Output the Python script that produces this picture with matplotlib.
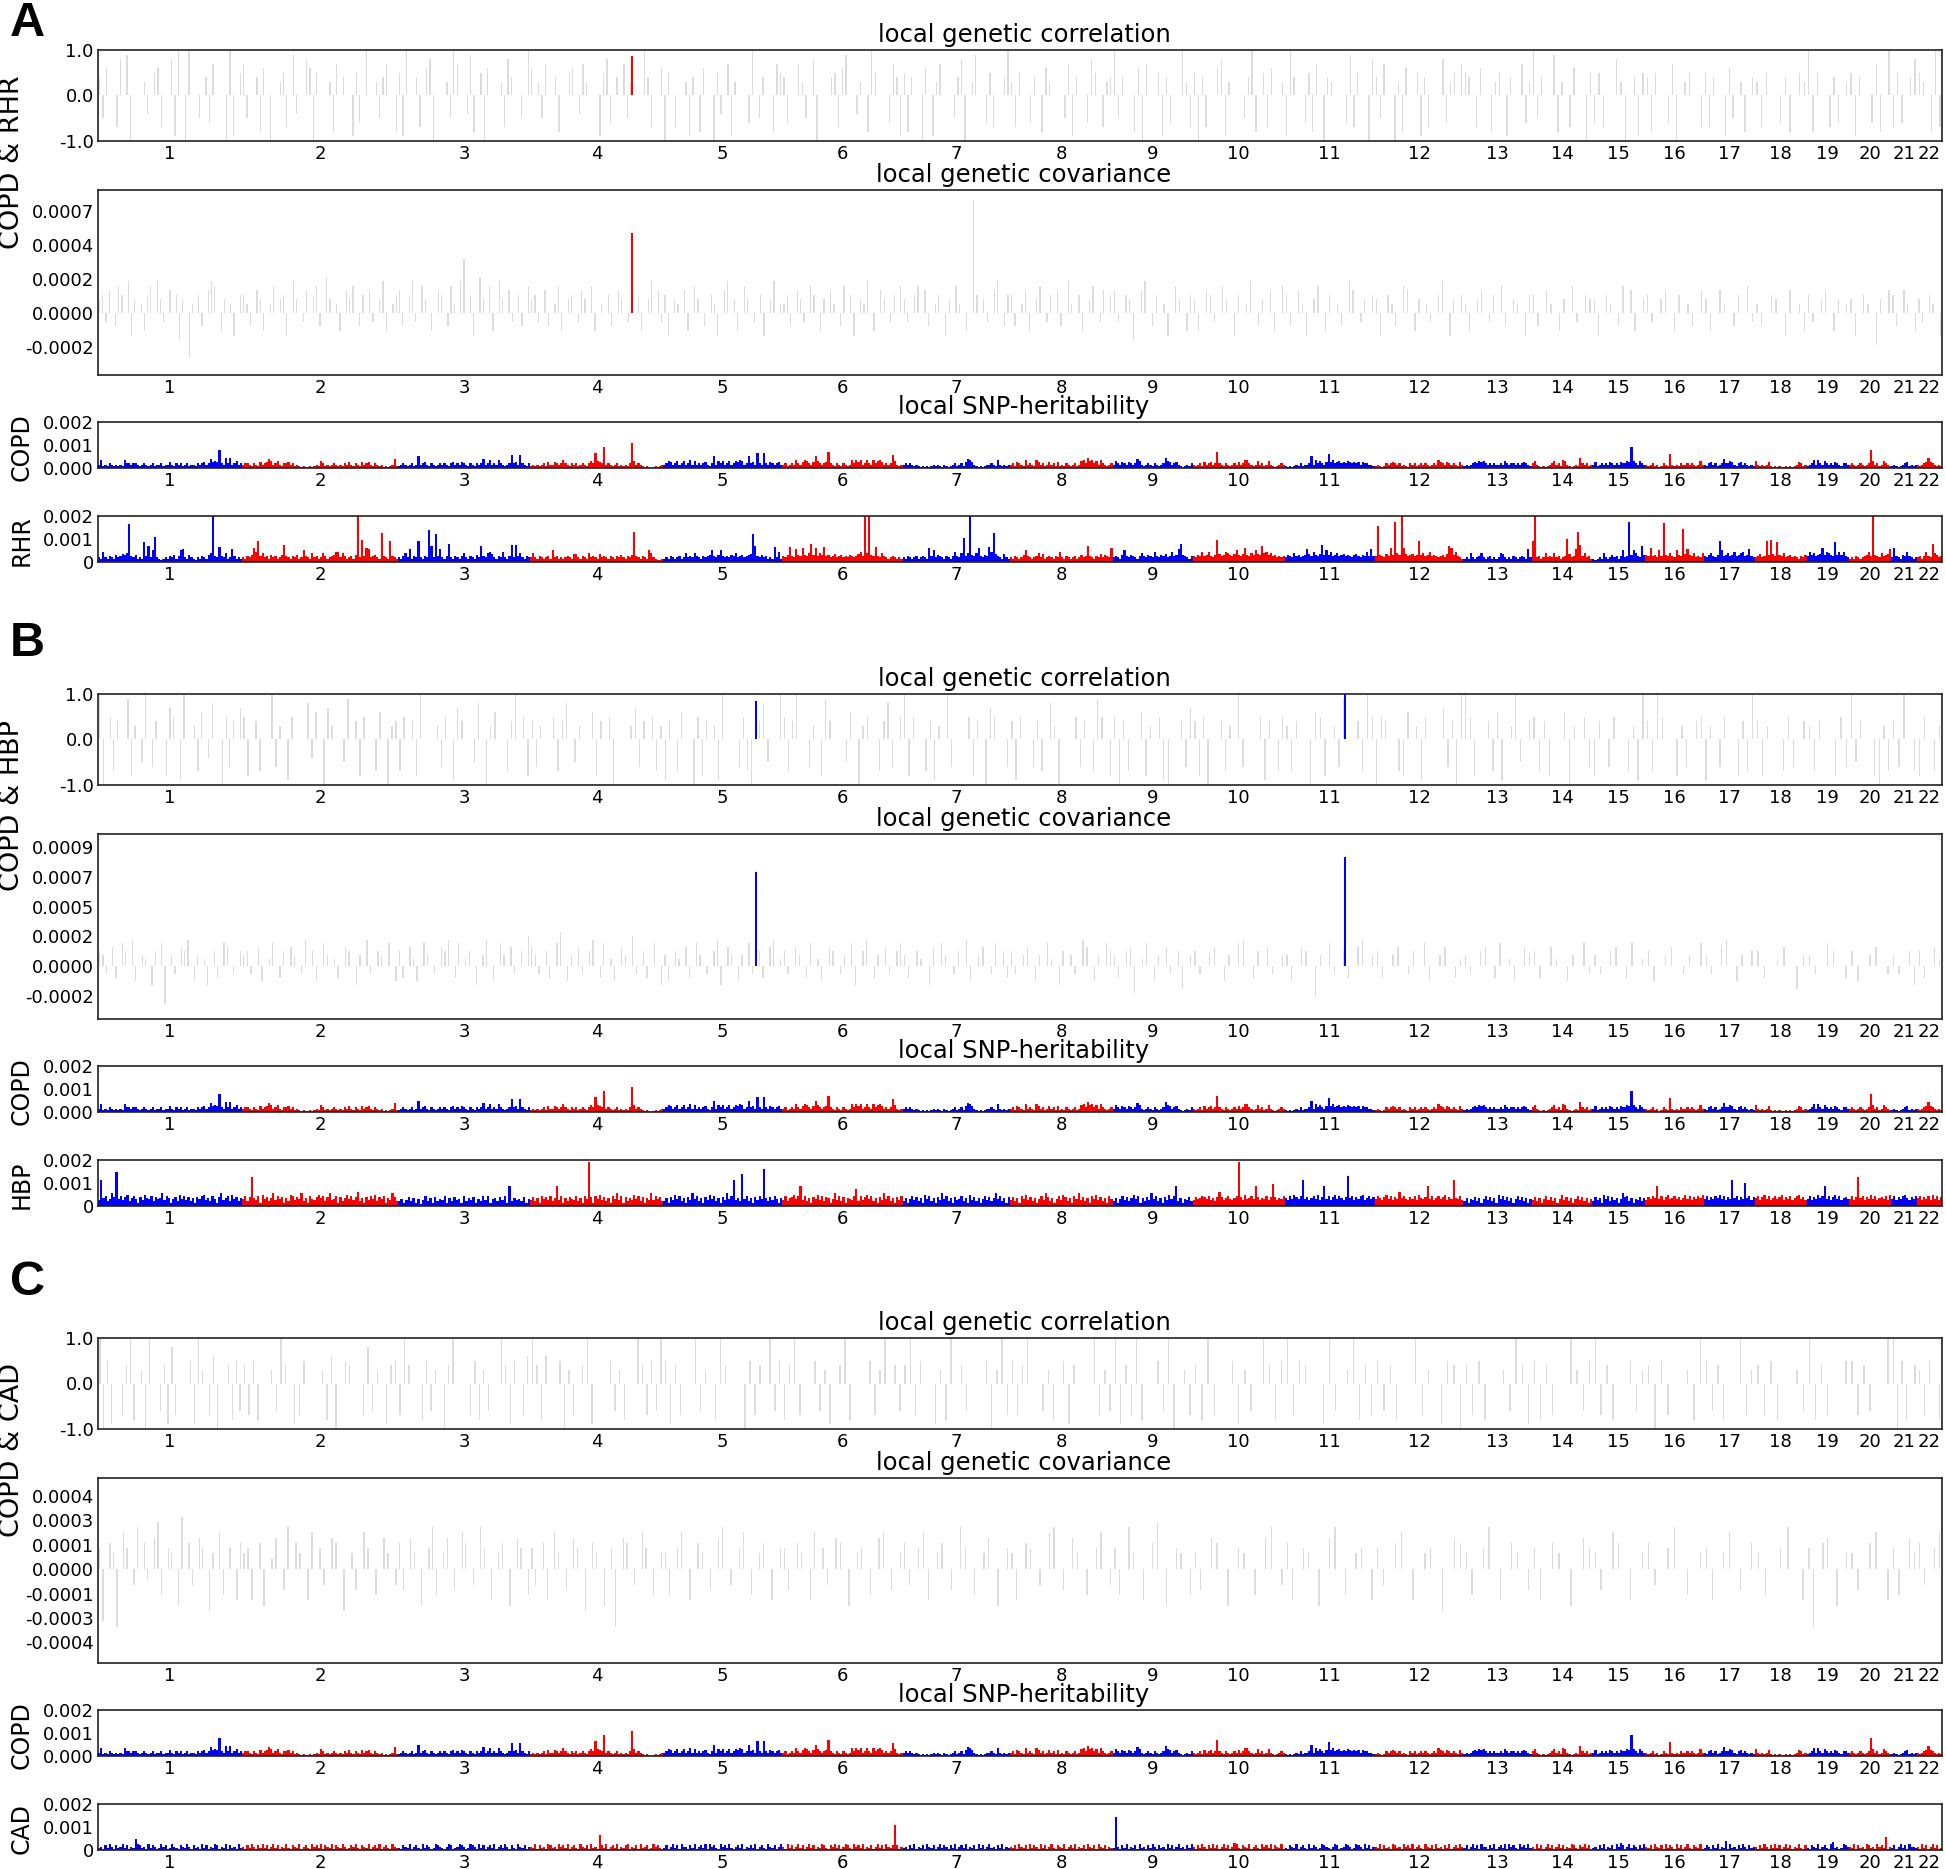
import numpy as np
import matplotlib
matplotlib.use("Agg")
import matplotlib.pyplot as plt

# ---------------------------------------------------------------- data
# LD blocks per chromosome (estimated from the chromosome widths)
CHR_BLOCKS = [133, 144, 122, 123, 110, 111, 99, 95, 74, 85, 83, 82,
              63, 56, 49, 54, 47, 48, 39, 39, 24, 23]
CHR_NAMES = [str(i) for i in range(1, 23)]

# local SNP-heritability, one char per ~2 blocks, code index * 0.00005
H2_CODE = "0123456789ABCDEFGHIJKLMNOPQRSTUVWXYZabcdefghij"
H2_STEP = 0.00005

copd_h2 = [
    "3723243232" "3274434432" "3432342334" "2335324342" "3423324345" "348565G439" "4934634",
    "3443243253" "4586346324" "4534232121" "1212326423" "2343232435" "3243253453" "2432312123" "82",
    "234323423A" "3453243234" "3432453435" "4324324348" "3473437432" "34B453B432" "4",
    "2323234253" "3543474324" "3423432464" "D654I34323" "4232324M63" "4321210121" "23",
    "3465346346" "3473634345" "324A364634" "634657634A" "453D43D435" "43453",
    "3423437435" "76435A6434" "5E43243243" "2374757347" "4374675343" "4B6323",
    "3434323212" "1212323213" "2123423425" "8753212123" "3432732323",
    "3425432734" "3275342353" "4252324323" "4236749674" "63743234",
    "3643543543" "4863234324" "3234965345" "3212324",
    "3234253453" "4E43243234" "3534774323" "6342363212" "343",
    "2121232423" "34A3746435" "C574564546" "5454535443" "32",
    "2321243454" "3423214342" "3434323437" "5435434325" "3",
    "2323454656" "4343433436" "4344343454" "32",
    "4632121234" "6342763212" "32943423",
    "3523434354" "34354465I6" "43643",
    "3234231243" "2C32324334" "3432363",
    "3245342348" "4465324534" "3232",
    "6323235212" "1211212123" "5423",
    "2347374364" "3435432443",
    "3432343234" "G634236432",
    "232123452323",
    "323459543232",
]

rhr_h2 = [
    "4394354364" "5768X54634" "3H5E4AM432" "34354635AB" "4364324354" "368f54D548" "34B5343",
    "43546C9I58" "453645346F" "54354634A5" "4384534853" "4569948534" "536e4J5CB4" "5643P543I5" "43",
    "43584B354I" "4354SE4O5B" "435G435435" "84354364E5" "4897435494" "35F4F58435" "4",
    "4843543453" "A453434543" "7743543845" "4374543543" "54643546Q5" "43543A8432" "23",
    "3435434534" "8454854354" "56A546A545" "4658456456" "7OE5464534" "3D493",
    "546D54B65C" "658G6C586D" "5645745645" "46545795f8" "f65D548543" "454343",
    "4354345345" "43C5A46543" "54359548L5" "8f658C5465" "D9P7543743",
    "4354346A54" "3458473454" "3549435434" "534645E543" "5474654C",
    "45436A5465" "4358546549" "5465745956" "BG65435",
    "5465956954" "6J75698657" "A657C6586A" "76E8968564" "545",
    "4654856456" "B759657F6A" "6956856756" "5467546595" "B5",
    "5V65475C6Z" "86fC756756" "I685695654" "5647EC6954" "3",
    "3438434584" "3453434874" "3435434543" "B4",
    "If45348454" "845345K745" "BQF58453",
    "3234384346" "4535A45Z6A" "854E6",
    "65C564A5Y6" "5854A65T7B" "6584548",
    "5468546IA5" "6856956895" "6B54",
    "45745I6J75" "H658456454" "3546",
    "5968567C69" "865H696954",
    "3435434569" "5f6548567B",
    "4C5436595434",
    "4535954G8645",
]

hbp_h2 = [
    "5N7946B8U6958A4796385A7694867B5973684A6958473869A5749638B5794A6847",
    "6948P7593A6847B5968374A9586B4739658A7948B5693847A6958C4738596A4869375B84",
    "4635847362594738465937485639475836495936748593H47564836",
    "584739685947H59374865947396c8396A5847396B5938475A6948375B59684",
    "47385A6947385B6947385A6947385B69N574S694738596W74859637",
    "59478A69H5947386A5948736B594837659F4958A6947385B69473859",
    "4736958473A6947385B694738569473A58473695847B694738",
    "5847396A58473695B8473695A847396B5847396A5847396",
    "473695847A6937485B6947385A69H4736584",
    "586798695748C85796579c85A6796H8576958J85769",
    "7596A869N685796A58H6958A69758Q795869A57968",
    "69758A69586C79658695A768H6957968A586N7695",
    "4736584736958473A695847369584736",
    "5847369584736A5847369584736",
    "48573A69485736B8947365847",
    "58697H6958A6796857A6958697A",
    "6958697A69586N79586K7958",
    "7958A6957968A5869579A685",
    "69586A79H6958A695786",
    "6958P79586A69578695A",
    "695869A75869",
    "7958695A6958",
]

cad_h2 = [
    "2314253142" "3524132A54" "2315243125" "3412532143" "2531423152" "4132541325" "1423152",
    "3142531425" "2413524132" "5214325134" "2153425143" "2514325312" "4352143251" "3425134215" "32",
    "2143251342" "1524312543" "2135412354" "3125431524" "1342513425" "3142153241" "3",
    "3251423154" "2315342513" "4215324152" "31D4251342" "5132451324" "1523412534" "21",
    "2413524153" "3142513425" "1534215342" "5213425132" "4251342153" "24135",
    "3152413524" "1352413254" "2143524135" "4215342513" "2413524153" "24M413",
    "2314251324" "1532413524" "3142513425" "1324152413" "5231425132",
    "3241532415" "2431524135" "2143251342" "5132415324" "15324132",
    "2T31425132" "4152314253" "1423152413" "5231425",
    "3142531425" "2413524136" "5214325134" "2153425143" "251",
    "2143251342" "1524312543" "2135412354" "3125431524" "13",
    "3251423154" "2315342513" "4215324152" "3142513425" "3",
    "2413524153" "3142513425" "1534215342" "52",
    "3152413524" "1352413254" "21435241",
    "2314251324" "1536413524" "31425",
    "3241532415" "2431524135" "2143251",
    "2431425132" "8152314253" "1423",
    "3142531425" "2413524132" "5214",
    "2143251342" "1572312543",
    "3251423154" "2315342B13",
    "241352415332",
    "315241352412",
]

# local genetic correlation, one char per ~3 blocks:
# '.' = 0, 'a'..'j' = +0.1..+1.0, 'A'..'J' = -0.1..-1.0
RHO_STEP = 0.1
rho_rhr = [
    "dEf..Gh.iJ...cD.efG..hIj.Jj..E.dFg...JjI.e",
    "gE..dHf.J..ceG.iD..hfJe...cHg.d..IeF.j..cEdg..H",
    "eIj..dG.fhJ...cEjg..DiH.eJf...cGhd..E.j",
    "f.cEg..dH..ef.Dgc...IehF.d.gEc...jdG..f",
    "Je.G..cId.Hf..JeD.gIc...Fj.Ed..Hge",
    "dF..gcE.hJ...deGfi..Dc.Hje...FgdI",
    "eHd..Jf.Icg...EdhJ.ci..FeG..dj",
    "cGe..Fd.Hfc...EgId..Fhe.Gcd",
    "jEd..HfJg..eIdF..jcG",
    "eJdG..fhIc...EdjH.eGf..c",
    "Ijd..FeHg.Jdc...FiGe..Jh",
    "dEg..JcHf..eIdG...hFce.g",
    "ed.Gf..Hce.Id..gFc",
    "jEd..iHc.Gf..Je",
    "FeG..hcJ.dIe",
    "dHe..FgJ.ce..G",
    "eGd..IfE.cH.d",
    "cGe..FdH.ec",
    "jHe..GdF.c",
    "eId..FgH.j",
    "GeF.dh",
    "ec.HjG",
]
rho_hbp = [
    "jJ.eGd..iHc.Ej.Fd..Hge.Ij..cGf.Dh..JeFd.g",
    "eH.dG..jFc.Ie...hDf.Jgc..Ei.dHe..Gf.Jcd",
    "Ge.dHj...cFe.Igd..Eh.Jcf..Gdj.eH",
    "dFc..eGdh.Ec..fHd.eJ...cgFd.eGc",
    "Id.Gf..JeHd.cIj...FeGJ.dhE..j",
    "eGdj..Fc.Hid...Ef.Jce..GdhF.e",
    "jHe..GdIc.jF...eHd.Jge..F",
    "dIe..FdG.hcJ...eFd.Gie.H",
    "eJdG..fHc.eIJ..dFg",
    "dHeJ..dGc.jF...eId.Ge",
    "cGd..JfeH.cFi..dGje",
    "Jed..GHf.cIe...gFdJj",
    "jeH..dGfI.cjE.d",
    "eGdH..fJc.eF",
    "Hd.Fe..GcIj",
    "dGje..HcF.de",
    "Ic.Fe..HdGj",
    "dHc..GeF.d",
    "cGd..HeF",
    "jEd..HJcG",
    "dFj.G",
    "He.Gc",
]
rho_cad = [
    "jJeI..GdjH.cJj..FdIhG...eIjc.GfJ..dHeF",
    "dGeH..cFjd.IGe...cHfJ.ed..GhFc.Ide",
    "Gjd..HeFc.Jdj...GeHcF..jdIe.Gf",
    "jdHf..eJcG.djI...eFcH..jdGeFj",
    "eIdG..jFc.Hjd...JeGd.jFe",
    "HdjG..eFcI.djH...eGcj.dF",
    "djGe..IcHj.dF...eJcjG",
    "eGdj..FcH.eId...jGcF",
    "jIdGjH..eFjJ.cG",
    "dHjG..eIcF.jdHe",
    "jGed..IjF.cjHdG",
    "eFdH..jGc.IedJ",
    "dGeH..cFjdI",
    "eHdG..jcFe",
    "jGdH..eFc",
    "dJeG..cHj",
    "eFdH..jGc",
    "dGeH..cF",
    "jHdG..e",
    "eGdF..j",
    "jJeH.d",
    "cGe.H",
]

# local genetic covariance, one char per ~3 blocks:
# '.' = 0, 'a'..'y' = +k * 0.00003, 'A'..'Y' = -k * 0.00003
COV_STEP = 0.00003
cov_rhr = [
    "cdBe.Cfd.gEc.bDdf.gcB.e.dFc.Jb.dC.egf.Dc.bE.d",
    "dbC.ecD.bf.cdE.gc.Be.dfC.hc.bD.ecf.Cd.eB.cgD.bd",
    "eC.dgB.fc.D.ed.Cfb.gl.dE.hc.fD.gc.eB.dC.f",
    "cdB.eC.bfD.cd.Bec.fD.b.dC.ec.Bf.dD.cg.eB",
    "dE.cb.eD.fc.C.dbE.eg.cD.fc.B.dE.cg.b",
    "bdC.ecB.fd.Dc.eb.Cf.dE.cbg.D.ec.Bd.f",
    "cB.df.eC.bd.Ec.fb.D.yd.cB.eg.Cd",
    "dC.beD.cf.Bd.eC.gb.dD.cf.Be.d",
    "eB.dcF.eg.Cd.bE.fc.Dd",
    "cD.edB.fc.Ed.bg.Cc.eD.f",
    "dC.ebE.cf.Dd.bC.ge.Bc.d",
    "cE.dbC.fe.Dc.bB.dg.Ec.d",
    "bD.ce.Bd.fC.cb.Ed",
    "dC.eb.Dc.fB.dc",
    "cE.db.Cf.eD.c",
    "dB.ce.Dd.bC.e",
    "cD.eb.Cd.fB",
    "bC.dc.Ee.bD",
    "dB.ce.Dc.b",
    "cE.db.Gc.e",
    "dC.eb.D",
    "cB.db.E",
]
cov_hbp = [
    "dcB.eC.fd.gD.cb.Ed.fJ.cB.edg.Dc.bE.dC.fe.B.d",
    "cdB.eD.bf.Cd.ec.Bg.dD.fc.bC.ed.Ec.gB.dc.f.D",
    "dC.ebD.fc.B.edg.Cf.bd.E.cg.D.fc.eB.d.h",
    "ecB.dC.fi.Dc.eB.dg.Cf.bD.ec.hB.dC.f.E",
    "cD.db.eC.fc.B.dgE.ec.Dc.fB.dC.eg.b",
    "dB.ec.Cf.bD.ed.Bc.fE.dg.Cc.eB.df",
    "cC.db.Ee.fc.Bd.gD.ce.Bf.dC",
    "dB.ce.Dc.fb.Ed.cB.ge.Dc.fd",
    "cC.deG.bf.Dc.eB.dF.c",
    "dB.ce.Dc.fg.Cd.eB.c",
    "cD.ed.Hc.fB.dC.eg.c",
    "dC.ce.Bd.fD.ce.Cb",
    "cB.de.Cf.bD.ec",
    "dC.eb.Dc.fB",
    "cB.de.Cf.b",
    "dD.ce.Bc.f",
    "cB.eg.Dc.d",
    "dC.be.Fc",
    "cB.fd.C",
    "dD.ce.B",
    "cB.dE",
    "dC.eb",
]
cov_cad = [
    "dJ.ecK.gd.Ch.eB.fiE.dc.Gj.eC.fd.Hc.gE.d.Fe",
    "cdF.eG.bf.Dh.ec.Fg.dC.fe.H.cD.gd.E.fc.C",
    "eD.fc.G.dhE.cf.D.ge.C.hd.F.ce.G.fd.E",
    "dC.eF.gc.D.fd.H.ec.G.dK.fe.C.gd.E.c",
    "cE.dg.F.ec.D.fh.C.dg.E.ce.F.d",
    "dD.ec.Fg.dC.fe.G.cd.E.fg.D.c",
    "eC.dgF.ce.D.hd.E.cf.G.d",
    "cF.ed.C.gh.D.fc.E.dg.C",
    "dE.hc.F.ei.G.dc.E",
    "cD.fe.G.dc.E.fh.C",
    "eF.dc.G.fh.E.cd.F",
    "dC.eg.F.cd.H.fe",
    "cE.dh.F.ec.D",
    "dF.ec.G.fd",
    "cD.ge.F.c",
    "eC.dh.E.c",
    "dF.cg.D.e",
    "cE.dh.F",
    "dK.ef.G.c",
    "cD.eg.F",
    "dE.fc",
    "eC.dg",
]

# significant loci: (chromosome, block within chromosome, rho, covariance)
sig_rhr = [(4, 94, 0.87, 0.00053)]
sig_hbp = [(5, 86, 0.84, 0.00074), (11, 56, 1.0, 0.00086)]
sig_cad = []

# covariance axis: tick step, labels, first tick (in steps), limits (in steps)
cov_axis = {
    "A": (0.000225, ["-0.0002", "0.0000", "0.0002", "0.0004", "0.0007"], -1, (-1.83, 3.62)),
    "B": (0.000235, ["-0.0002", "0.0000", "0.0002", "0.0005", "0.0007", "0.0009"], -1, (-1.77, 4.43)),
    "C": (0.00014, ["-0.0004", "-0.0003", "-0.0001", "0.0000", "0.0001", "0.0003", "0.0004"], -3, (-3.84, 3.72)),
}

panels = [
    ("A", "RHR", rho_rhr, cov_rhr, rhr_h2, sig_rhr, "red"),
    ("B", "HBP", rho_hbp, cov_hbp, hbp_h2, sig_hbp, "blue"),
    ("C", "CAD", rho_cad, cov_cad, cad_h2, sig_cad, "blue"),
]

# ---------------------------------------------------------------- layout
W, H = 1946, 1869
LEFT, RIGHT = 98, 1942
PANEL_TOP = [50, 694, 1338]
LETTER_Y = [24, 644, 1282]
GRAY = "#dcdcdc"
H2_COLORS = ["blue", "red"]

CHR_START = np.concatenate([[0], np.cumsum(CHR_BLOCKS)[:-1]])
N_TOTAL = sum(CHR_BLOCKS)
CHR_MID = CHR_START + np.array(CHR_BLOCKS) / 2.0

fig = plt.figure(figsize=(W / 100, H / 100), dpi=100)


def px_axes(top, bottom):
    ax = fig.add_axes([LEFT / W, 1 - bottom / H, (RIGHT - LEFT) / W, (bottom - top) / H])
    ax.set_xlim(0, N_TOTAL)
    ax.set_xticks(CHR_MID)
    ax.set_xticklabels(CHR_NAMES)
    ax.tick_params(length=0, labelsize=13, pad=3)
    for sp in ax.spines.values():
        sp.set_linewidth(1.2)
        sp.set_color("#222222")
    return ax


def signed_vals(s, unit):
    out = []
    for ch in s:
        if ch == ".":
            out.append(0.0)
        elif ch.islower():
            out.append((ord(ch) - 96) * unit)
        else:
            out.append(-(ord(ch) - 64) * unit)
    return np.array(out)


def draw_gray(ax, strings, unit):
    for c, s in enumerate(strings):
        step = CHR_BLOCKS[c] / len(s)
        x = CHR_START[c] + step * (np.arange(len(s)) + 0.5)
        ax.bar(x, signed_vals(s, unit), width=1.2, color=GRAY, linewidth=0)


def draw_h2(ax, strings):
    for c, s in enumerate(strings):
        step = CHR_BLOCKS[c] / len(s)
        x = CHR_START[c] + step * np.arange(len(s))
        vals = np.array([H2_CODE.index(ch) for ch in s]) * H2_STEP
        ax.bar(x, vals, width=step, align="edge", color=H2_COLORS[c % 2], linewidth=0)


def fig_text(x, y, s, **kw):
    fig.text(x / W, 1 - y / H, s, **kw)


for p, (letter, trait, rho, cov, h2, sig, sig_col) in enumerate(panels):
    T = PANEL_TOP[p]
    fig_text(10, LETTER_Y[p], letter, fontsize=35, fontweight="bold",
             family="Liberation Sans", ha="left", va="center")
    fig_text(12, T + 112, "COPD & " + trait, fontsize=19.5, rotation=90,
             ha="center", va="center")

    # local genetic correlation
    ax = px_axes(T, T + 91)
    draw_gray(ax, rho, RHO_STEP)
    for chrom, blk, r, cv in sig:
        ax.bar(CHR_START[chrom - 1] + blk, r, width=2.0, color=sig_col, linewidth=0, zorder=3)
    ax.set_ylim(-1, 1)
    ax.set_yticks([-1, 0, 1])
    ax.set_yticklabels(["-1.0", "0.0", "1.0"])
    fig_text(1024, T - 15, "local genetic correlation", fontsize=17.5, ha="center", va="center")

    # local genetic covariance
    step, labels, first, lims = cov_axis[letter]
    ax = px_axes(T + 140, T + 325)
    draw_gray(ax, cov, COV_STEP)
    for chrom, blk, r, cv in sig:
        ax.bar(CHR_START[chrom - 1] + blk, cv, width=2.0, color=sig_col, linewidth=0, zorder=3)
    ax.set_ylim(lims[0] * step, lims[1] * step)
    ax.set_yticks([(first + i) * step for i in range(len(labels))])
    ax.set_yticklabels(labels)
    fig_text(1024, T + 125, "local genetic covariance", fontsize=17.5, ha="center", va="center")

    # local SNP-heritability
    fig_text(1024, T + 357, "local SNP-heritability", fontsize=17.5, ha="center", va="center")
    for k, (name, data, zero_lab) in enumerate([("COPD", copd_h2, "0.000"), (trait, h2, "0")]):
        top = T + 372 + k * 94
        ax = px_axes(top, top + 46)
        draw_h2(ax, data)
        ax.set_ylim(0, 0.002)
        ax.set_yticks([0, 0.001, 0.002])
        ax.set_yticklabels([zero_lab, "0.001", "0.002"])
        fig_text(22, top + 25, name, fontsize=17, rotation=90, ha="center", va="center")

fig.savefig("out.png", dpi=100)
